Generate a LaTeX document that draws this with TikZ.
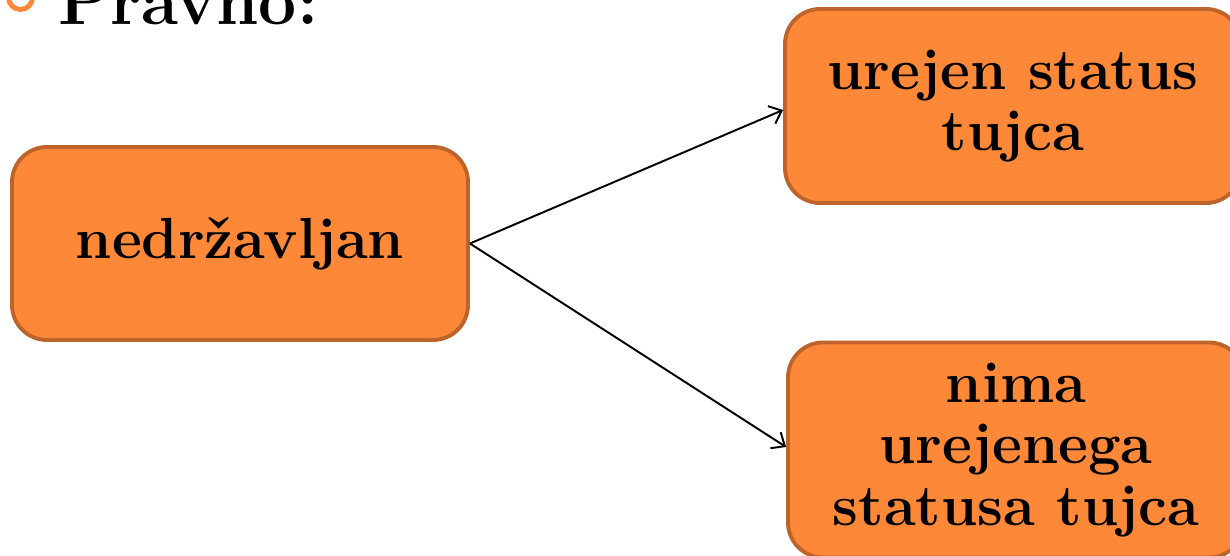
\documentclass[tikz,border=0pt]{standalone}
\usepackage{tikz}
\usetikzlibrary{arrows.meta,positioning}
\definecolor{boxfill}{RGB}{253,136,56}
\definecolor{boxline}{RGB}{190,100,42}
\tikzstyle{status} = [rectangle, rounded corners=0.7cm, minimum width=9.12cm, text centered, align=center, draw=boxline, line width=2.2pt, fill=boxfill, font=\fontsize{33}{35}\selectfont\bfseries]
\tikzstyle{arrow} = [line width=1.1pt,-{Straight Barb[length=2.2mm,width=3.8mm]}]

\begin{document}
\begin{tikzpicture}
\useasboundingbox (0,0) rectangle (24.6,11.12);

\node (bullet) [circle, draw=boxfill, line width=0.1cm, minimum size=0.48cm, inner sep=0pt] at (0.41,11.17) {};
\node (title) [anchor=base west, inner sep=0pt, font=\fontsize{38.5}{42}\selectfont\bfseries] at (1.16,10.62) {Pravno:};

\node (start) [status, minimum height=3.86cm] at (4.8,6.25) {nedržavljan};
\node (reg) [status, minimum height=3.88cm] at (20.26,9.0) {urejen status\\tujca};
\node (noreg) [status, minimum height=4.3cm] at (20.32,2.12) {nima\\urejenega\\statusa tujca};

\draw [arrow] (start.east) -- ([yshift=-0.08cm]reg.west);
\draw [arrow] (start.east) -- ([yshift=0.06cm]noreg.west);

\end{tikzpicture}
\end{document}
